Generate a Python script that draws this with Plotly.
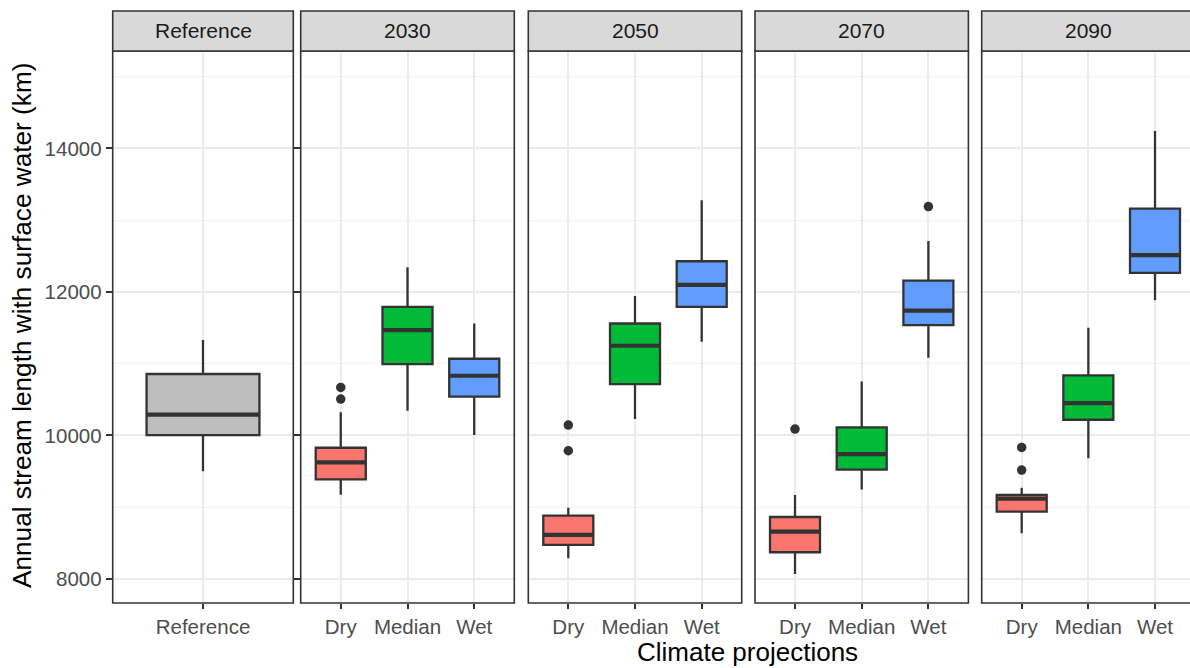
import plotly.graph_objects as go

# ---------------- data ----------------
panels = ["Reference", "2030", "2050", "2070", "2090"]
scenarios = ["Dry", "Median", "Wet"]
ref_label = ["Reference"]

# Reference period box statistics
ref_lower = [9502]
ref_q1 = [10006]
ref_median = [10291]
ref_q3 = [10856]
ref_upper = [11331]

# Future periods: one list per year, order Dry, Median, Wet
lower = {
    "2030": [9175, 10345, 10006],
    "2050": [8289, 10228, 11304],
    "2070": [8071, 9246, 11082],
    "2090": [8637, 9681, 11884],
}
q1 = {
    "2030": [9389, 10994, 10540],
    "2050": [8475, 10715, 11791],
    "2070": [8373, 9523, 11537],
    "2090": [8939, 10219, 12265],
}
median = {
    "2030": [9626, 11467, 10832],
    "2050": [8614, 11250, 12098],
    "2070": [8660, 9741, 11740],
    "2090": [9120, 10451, 12511],
}
q3 = {
    "2030": [9829, 11791, 11069],
    "2050": [8883, 11560, 12427],
    "2070": [8864, 10112, 12158],
    "2090": [9171, 10836, 13160],
}
upper = {
    "2030": [10322, 12344, 11560],
    "2050": [8994, 11944, 13276],
    "2070": [9171, 10753, 12710],
    "2090": [9273, 11499, 14241],
}
# outliers: (scenario, value)
outliers = {
    "2030": [("Dry", 10507), ("Dry", 10669)],
    "2050": [("Dry", 9787), ("Dry", 10145)],
    "2070": [("Dry", 10089), ("Wet", 13188)],
    "2090": [("Dry", 9518), ("Dry", 9834)],
}

y_ticks = [8000, 10000, 12000, 14000]
y_tick_labels = ["8000", "10000", "12000", "14000"]

# ---------------- style ----------------
W, H = 1190, 668
FONT = "Liberation Sans, Arial, sans-serif"
fill_colors = {"Dry": "#F8766D", "Median": "#00BA38", "Wet": "#619CFF"}
ref_fill = "#BEBEBE"
dark = "#333333"
grid = "#EBEBEB"
minor_grid = "#F2F2F2"
box_w = 0.75

# panel pixel geometry
panel_px = [(112.7, 293.3), (300.7, 514.3), (528.3, 741.7), (755.0, 968.4), (981.7, 1195.0)]
panel_top, panel_bot = 51.0, 603.0
strip_top = 11.0
y_range = [7666, 15356]


def px_x(p):
    return p / W


def px_y(p):
    return 1 - p / H


fig = go.Figure()
layout = {}
shapes = []
annotations = []

for k, name in enumerate(panels):
    sfx = "" if k == 0 else str(k + 1)
    xa, ya = "x" + sfx, "y" + sfx
    x0p, x1p = panel_px[k]
    ncat = 1 if k == 0 else 3
    full_range = [-0.6, ncat - 1 + 0.6]
    x1_vis = min(x1p, W)
    units_per_px = (full_range[1] - full_range[0]) / (x1p - x0p)
    rng = [full_range[0], full_range[0] + (x1_vis - x0p) * units_per_px]

    cats = ref_label if k == 0 else scenarios
    layout["xaxis" + sfx] = dict(
        domain=[px_x(x0p), px_x(x1_vis)], range=rng, anchor=ya,
        tickmode="array", tickvals=list(range(ncat)), ticktext=cats,
        ticks="outside", ticklen=5, tickwidth=1.6, tickcolor=dark,
        showgrid=True, gridcolor=grid, gridwidth=1.6, zeroline=False,
        showline=False, tickfont=dict(family=FONT, size=20.5, color="#4D4D4D"),
        fixedrange=True,
    )
    layout["yaxis" + sfx] = dict(
        domain=[px_y(panel_bot), px_y(panel_top)], range=y_range, anchor=xa,
        tickmode="array", tickvals=y_ticks, ticktext=y_tick_labels,
        ticks="outside" if k <= 1 else "", ticklen=6, tickwidth=1.6, tickcolor=dark,
        showticklabels=(k == 0),
        showgrid=True, gridcolor=grid, gridwidth=1.6, zeroline=False, showline=False,
        minor=dict(tick0=9000, dtick=2000, showgrid=True, gridcolor=minor_grid,
                   gridwidth=0.9, ticks=""),
        tickfont=dict(family=FONT, size=20.5, color="#4D4D4D"),
        fixedrange=True,
    )

    # boxes
    if k == 0:
        stats = [(0, ref_lower[0], ref_q1[0], ref_median[0], ref_q3[0], ref_upper[0], ref_fill)]
    else:
        stats = [(i, lower[name][i], q1[name][i], median[name][i], q3[name][i], upper[name][i],
                  fill_colors[s]) for i, s in enumerate(scenarios)]
    for (pos, lo, a, m, b, hi, col) in stats:
        fig.add_trace(go.Box(
            x=[pos], lowerfence=[lo], q1=[a], median=[m], q3=[b], upperfence=[hi],
            width=box_w, whiskerwidth=0, fillcolor=col,
            line=dict(color=dark, width=2.3), boxpoints=False,
            xaxis=xa, yaxis=ya, showlegend=False, hoverinfo="skip",
        ))
        fig.add_trace(go.Scatter(
            x=[pos - box_w / 2, pos + box_w / 2], y=[m, m], mode="lines",
            line=dict(color=dark, width=4.2), xaxis=xa, yaxis=ya,
            showlegend=False, hoverinfo="skip",
        ))
    if k > 0 and outliers.get(name):
        fig.add_trace(go.Scatter(
            x=[scenarios.index(s) for s, v in outliers[name]],
            y=[v for s, v in outliers[name]], mode="markers",
            marker=dict(color=dark, size=9.5), xaxis=xa, yaxis=ya,
            showlegend=False, hoverinfo="skip",
        ))

    # panel border
    shapes.append(dict(type="rect", xref="paper", yref="paper",
                       x0=px_x(x0p), x1=px_x(x1p), y0=px_y(panel_bot), y1=px_y(panel_top),
                       line=dict(color=dark, width=1.6), fillcolor="rgba(0,0,0,0)", layer="above"))
    # strip
    shapes.append(dict(type="rect", xref="paper", yref="paper",
                       x0=px_x(x0p), x1=px_x(x1p), y0=px_y(panel_top), y1=px_y(strip_top),
                       line=dict(color=dark, width=1.6), fillcolor="#D9D9D9", layer="above"))
    annotations.append(dict(text=name, xref="paper", yref="paper",
                            x=px_x((x0p + x1p) / 2), y=px_y((strip_top + panel_top) / 2),
                            showarrow=False, xanchor="center", yanchor="middle",
                            font=dict(family=FONT, size=21, color="#1A1A1A")))

annotations.append(dict(text="Annual stream length with surface water (km)", xref="paper", yref="paper",
                        x=px_x(22), y=px_y(326), textangle=-90, showarrow=False,
                        xanchor="center", yanchor="middle",
                        font=dict(family=FONT, size=26.2, color="black")))
annotations.append(dict(text="Climate projections", xref="paper", yref="paper",
                        x=px_x(747), y=px_y(652), showarrow=False,
                        xanchor="center", yanchor="middle",
                        font=dict(family=FONT, size=26, color="black")))

fig.update_layout(
    width=W, height=H, margin=dict(l=0, r=0, t=0, b=0),
    paper_bgcolor="white", plot_bgcolor="white",
    shapes=shapes, annotations=annotations, showlegend=False,
    font=dict(family=FONT),
    **layout,
)

fig.write_html("out.html", include_plotlyjs=True, config={"displayModeBar": False})
